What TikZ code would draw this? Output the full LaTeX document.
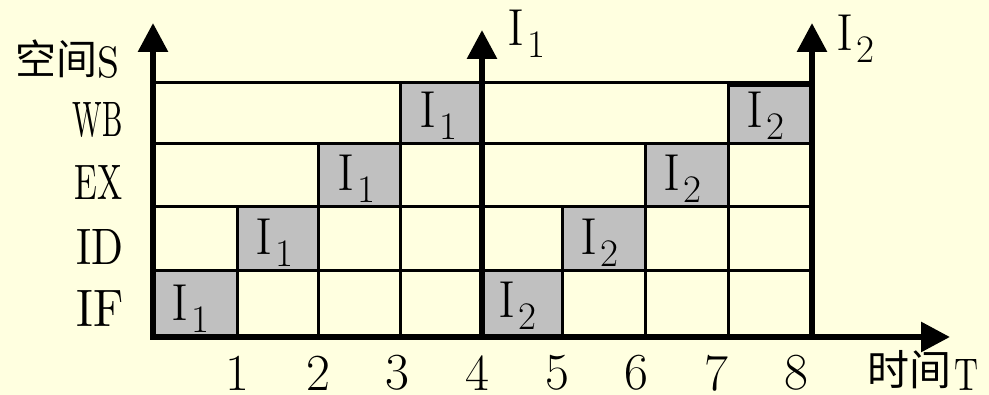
\documentclass[tikz,border=0pt]{standalone}
\usepackage{fontspec}
\usepackage{graphicx}
\newfontfamily\cjk{Noto Sans CJK SC}
\usetikzlibrary{arrows.meta}
\definecolor{bgyellow}{RGB}{255,255,224}
\definecolor{cellgray}{RGB}{192,192,192}
\newcommand\bigfont{\fontsize{52}{52}\selectfont}
\newcommand\Isub[1]{I\kern3pt\raisebox{-12pt}{\fontsize{39}{39}\selectfont #1}}
\begin{document}
\begin{tikzpicture}[x=1pt,y=1pt,
  gridline/.style={line width=3pt},
  axisarrow/.style={line width=6pt,-{Triangle[length=29pt,width=29pt]}},
  cellbox/.style={draw,line width=3pt,fill=cellgray},
  celllabel/.style={inner sep=0pt,anchor=base west,font=\bigfont},
  numlabel/.style={inner sep=0pt,font=\bigfont},
  stagelabel/.style={inner sep=0pt}]
\useasboundingbox (0,0) rectangle (989,395);
\fill[bgyellow] (0,0) rectangle (989,395);
% horizontal grid lines
\foreach \y in {312,251,188,124}
  \draw[gridline] (153,\y) -- (810,\y);
% vertical grid lines
\foreach \x/\y in {237/188,318/251,400/312,562/188,645/251,728/312}
  \draw[gridline] (\x,58) -- (\x,\y);
% shaded cells
\foreach \xa/\ya/\xb/\yb in {153/58/237/124,237/124/318/188,318/188/400/251,400/251/482/312,
                             482/58/562/124,562/124/645/188,645/188/728/251,728/251/810/309}
  \draw[cellbox] (\xa,\ya) rectangle (\xb,\yb);
% cell labels
\node[celllabel] (a1) at (171,74) {\Isub{1}};
\node[celllabel] (a2) at (255,140) {\Isub{1}};
\node[celllabel] (a3) at (337,204) {\Isub{1}};
\node[celllabel] (a4) at (419,267) {\Isub{1}};
\node[celllabel] (b1) at (498,77) {\Isub{2}};
\node[celllabel] (b2) at (580,140) {\Isub{2}};
\node[celllabel] (b3) at (663,204) {\Isub{2}};
\node[celllabel] (b4) at (746,267) {\Isub{2}};
% axes
\coordinate (orig) at (153,55);
\coordinate (ytip) at (153,372);
\coordinate (xorig) at (150,58);
\coordinate (xtip) at (950,58);
\coordinate (ionebase) at (482,58);
\coordinate (ionetip) at (482,365);
\coordinate (itwobase) at (812,58);
\coordinate (itwotip) at (812,372);
\draw[axisarrow] (orig) -- (ytip);
\draw[axisarrow] (xorig) -- (xtip);
\draw[axisarrow] (ionebase) -- (ionetip);
\draw[axisarrow] (itwobase) -- (itwotip);
% arrow labels
\node[celllabel] (tone) at (507,349) {\Isub{1}};
\node[celllabel] (ttwo) at (836,344) {\Isub{2}};
% stage labels
\node[stagelabel] (wb) at (98,275) {\resizebox{50pt}{34pt}{WB}};
\node[stagelabel] (ex) at (99,212) {\resizebox{48pt}{34pt}{EX}};
\node[stagelabel] (id) at (100,148) {\resizebox{47pt}{35pt}{ID}};
\node[stagelabel] (if) at (100,86) {\resizebox{47pt}{36pt}{IF}};
\node[stagelabel,font=\cjk\fontsize{41}{41}\selectfont] (space) at (57,336) {空间};
\node[stagelabel] (spaceS) at (109,333) {\resizebox{22pt}{31pt}{S}};
\node[stagelabel,font=\cjk\fontsize{42}{42}\selectfont] (time) at (909,25) {时间};
\node[stagelabel] (timeT) at (966,20) {\resizebox{24pt}{31pt}{T}};
% time numbers
\foreach \n/\x in {1/237,2/318,3/397,4/477,5/557,6/636,7/716,8/796}
  \node[numlabel] (n\n) at (\x,22) {\n};
\end{tikzpicture}
\end{document}
